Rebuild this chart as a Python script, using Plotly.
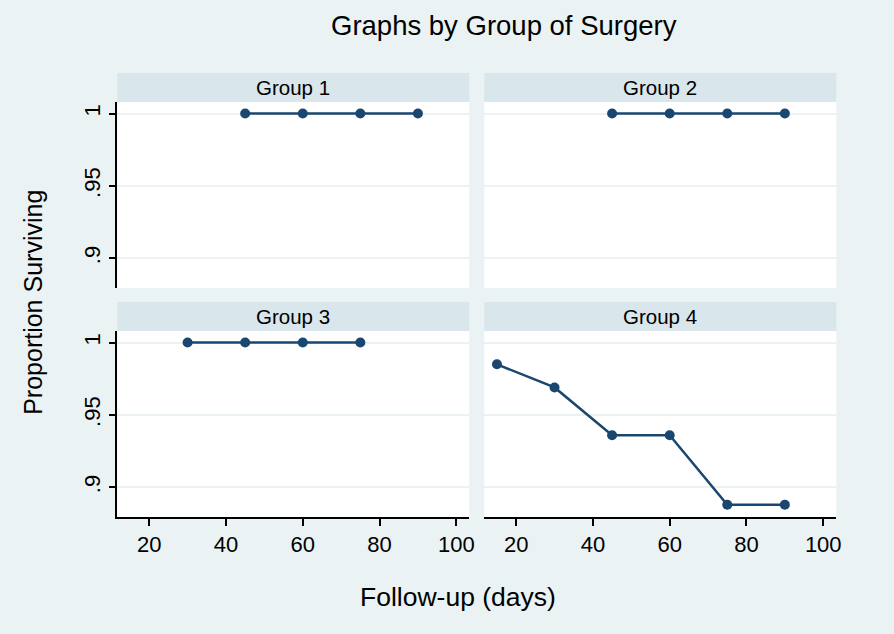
import plotly.graph_objects as go

# survival estimates
groups = ['Group 1', 'Group 2', 'Group 3', 'Group 4']
days_g1 = [45, 60, 75, 90]
surv_g1 = [1, 1, 1, 1]
days_g2 = [45, 60, 75, 90]
surv_g2 = [1, 1, 1, 1]
days_g3 = [30, 45, 60, 75]
surv_g3 = [1, 1, 1, 1]
days_g4 = [15, 30, 45, 60, 75, 90]
surv_g4 = [0.985, 0.969, 0.936, 0.936, 0.888, 0.888]

x_ticks = [20, 40, 60, 80, 100]
y_ticks = [0.9, 0.95, 1]
y_ticktext = ['.9', '.95', '1']

W, H = 894, 634
BG = '#EAF2F3'
STRIP = '#D9E6EB'
NAVY = '#1A476F'
FONT = 'Liberation Sans, Arial, sans-serif'

# panel boxes in pixels: (left, right, top, bottom)
boxes = [(118, 472, 102, 288), (487, 841, 102, 288),
         (118, 472, 331, 517), (487, 841, 331, 517)]
strip_h = 29


def px_x(v):
    return v / W


def px_y(v):
    return 1 - v / H


series = [(days_g1, surv_g1), (days_g2, surv_g2), (days_g3, surv_g3), (days_g4, surv_g4)]

fig = go.Figure()
layout = dict(
    width=W, height=H,
    margin=dict(l=0, r=0, t=0, b=0),
    paper_bgcolor=BG,
    plot_bgcolor='white',
    showlegend=False,
    font=dict(family=FONT, size=21, color='black'),
    shapes=[],
    annotations=[],
)

for i, (xs, ys) in enumerate(series):
    n = '' if i == 0 else str(i + 1)
    fig.add_trace(go.Scatter(
        x=xs, y=ys, mode='lines+markers',
        line=dict(color=NAVY, width=2.5),
        marker=dict(color=NAVY, size=10),
        xaxis='x' + n, yaxis='y' + n,
        hoverinfo='x+y',
    ))
    l, r, t, b = boxes[i]
    bottom_row = i >= 2
    left_col = i % 2 == 0
    layout['xaxis' + n] = dict(
        domain=[px_x(l), px_x(r)],
        anchor='y' + n,
        range=[11.7, 103.4],
        tickvals=x_ticks,
        showgrid=False, zeroline=False,
        showticklabels=bottom_row,
        ticks='outside' if bottom_row else '',
        ticklen=7, tickwidth=1.5, tickcolor='black',
        showline=bottom_row, linecolor='black', linewidth=1.5,
        tickfont=dict(size=22),
    )
    layout['yaxis' + n] = dict(
        domain=[px_y(b), px_y(t)],
        anchor='x' + n,
        range=[0.8795, 1.008],
        tickvals=y_ticks, ticktext=y_ticktext,
        tickangle=-90,
        showgrid=True, gridcolor=BG, gridwidth=2,
        zeroline=False,
        showticklabels=left_col,
        ticks='outside' if left_col else '',
        ticklen=7, tickwidth=1.5, tickcolor='black',
        showline=left_col, linecolor='black', linewidth=1.5,
        tickfont=dict(size=22),
    )
    # strip header
    layout['shapes'].append(dict(
        type='rect', xref='paper', yref='paper',
        x0=px_x(l), x1=px_x(r), y0=px_y(t), y1=px_y(t - strip_h),
        fillcolor=STRIP, line=dict(width=0), layer='below',
    ))
    layout['annotations'].append(dict(
        text=groups[i], xref='paper', yref='paper',
        x=px_x((l + r) / 2), y=px_y(t - strip_h / 2),
        showarrow=False, xanchor='center', yanchor='middle',
        font=dict(size=20.5),
    ))

layout['annotations'] += [
    dict(text='Graphs by Group of Surgery', xref='paper', yref='paper',
         x=px_x(507), y=px_y(26), showarrow=False,
         xanchor='center', yanchor='middle', font=dict(size=27.5)),
    dict(text='Follow-up (days)', xref='paper', yref='paper',
         x=px_x(461), y=px_y(597), showarrow=False,
         xanchor='center', yanchor='middle', font=dict(size=26.5)),
    dict(text='Proportion Surviving', xref='paper', yref='paper',
         x=px_x(33), y=px_y(302), showarrow=False, textangle=-90,
         xanchor='center', yanchor='middle', font=dict(size=25)),
]

fig.update_layout(**layout)
fig.write_html('out.html', config={'displayModeBar': False},
               post_script="document.body.style.margin='0';"
                           "document.body.style.overflow='hidden';")
